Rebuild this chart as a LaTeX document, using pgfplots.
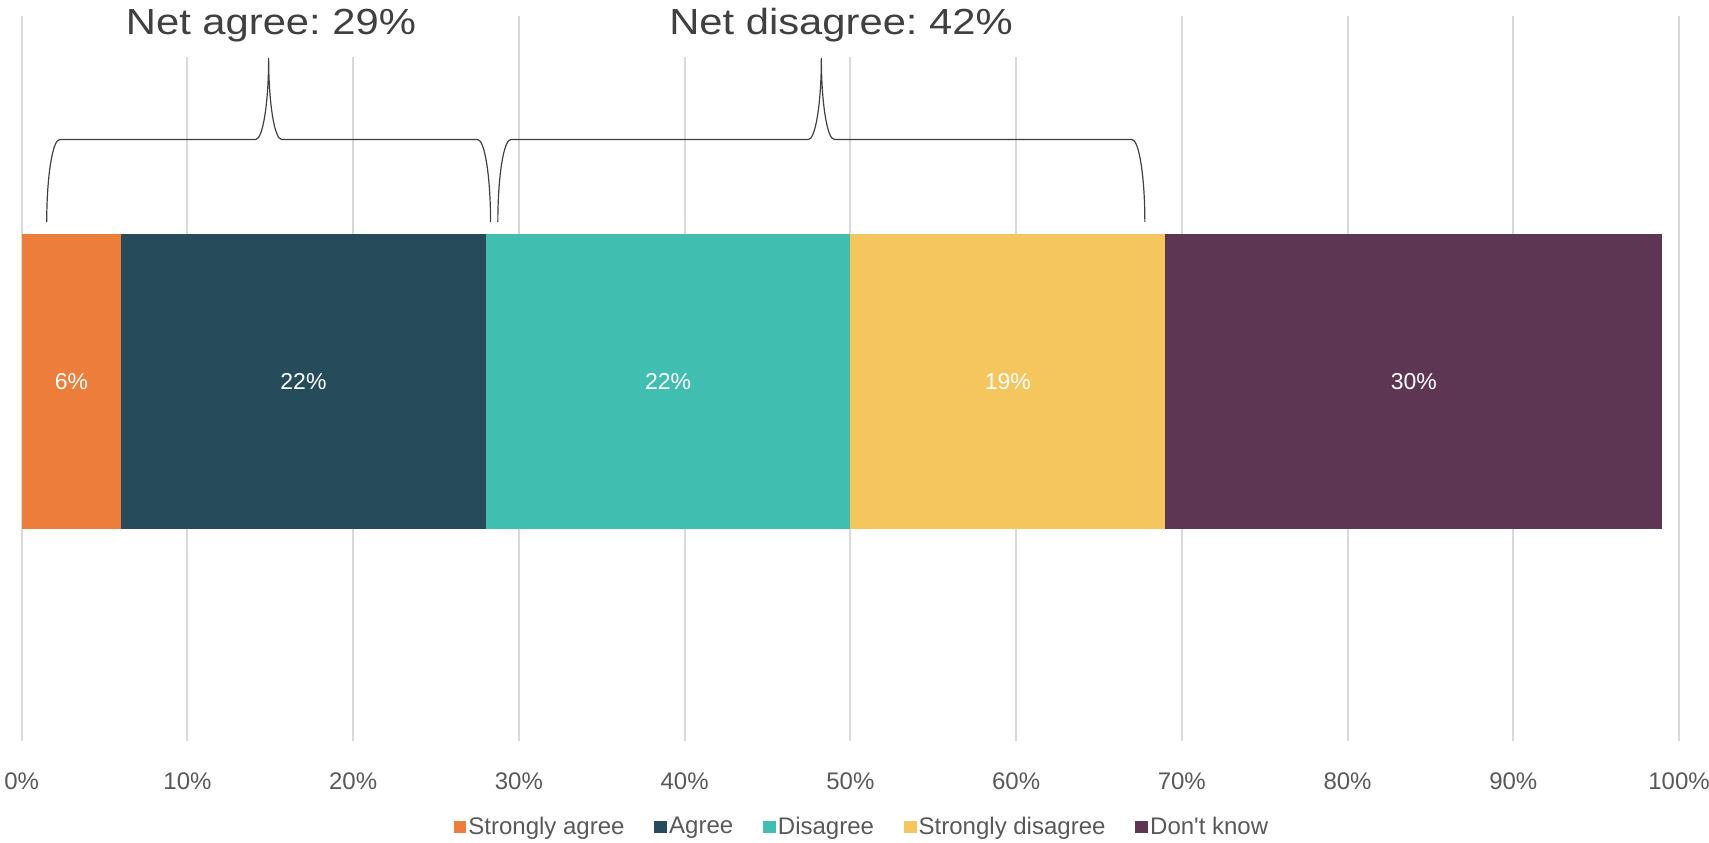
\documentclass[border=0pt]{standalone}
\usepackage{fontspec}
\setmainfont{Liberation Sans}
\newfontfamily\titlefont[FakeStretch=1.15]{Liberation Sans}
\frenchspacing
\usepackage{pgfplots}
\pgfplotsset{compat=1.18}
\usetikzlibrary{calc}
\definecolor{cSA}{HTML}{ED7D3B}
\definecolor{cA}{HTML}{264B5B}
\definecolor{cD}{HTML}{40BFB0}
\definecolor{cSD}{HTML}{F5C55E}
\definecolor{cDK}{HTML}{5D3653}
\definecolor{cGrid}{HTML}{D9D9D9}
\definecolor{cTick}{HTML}{595959}
\definecolor{cTitle}{HTML}{404040}
\pgfplotsset{mylegend/.style={legend image code/.code={\fill[##1,draw=none] (0pt,-3.175pt) rectangle (6.35pt,3.175pt);}}}
\newcommand{\netbrace}[3]{%
 \draw[color=cTitle, line width=0.6pt]
 (axis cs:#1,-222) .. controls (axis cs:#1,-176.5) and (axis cs:{#1+0.352},-139.5) .. (axis cs:{#1+0.784},-139.5)
 -- (axis cs:{#2-0.784},-139.5) .. controls (axis cs:{#2-0.352},-139.5) and (axis cs:#2,-103) .. (axis cs:#2,-58)
 .. controls (axis cs:#2,-103) and (axis cs:{#2+0.352},-139.5) .. (axis cs:{#2+0.784},-139.5)
 -- (axis cs:{#3-0.784},-139.5) .. controls (axis cs:{#3-0.352},-139.5) and (axis cs:#3,-176.5) .. (axis cs:#3,-222);
}
\begin{document}
\begin{tikzpicture}
\begin{axis}[
 name=ax,
 width=828.65pt, height=362.5pt, scale only axis,
 xmin=0, xmax=100, ymin=-741, ymax=-16,
 xbar stacked, bar width=295,
 clip=false,
 axis line style={draw=none},
 major tick length=0pt,
 ytick=\empty,
 xtick={0,10,...,100},
 xticklabel={\pgfmathprintnumber{\tick}\%},
 /pgf/number format/assume math mode=true,
 xmajorgrids, grid style={color=cGrid, line width=1pt},
 xticklabel style={font=\fontsize{12}{14}\selectfont, text=cTick, anchor=center, yshift=-20pt},
 legend columns=-1,
 legend style={at={(0.507,-0.1186)}, anchor=center, draw=none, fill=none,
   font=\fontsize{12}{14}\selectfont, text=cTick, nodes={inner sep=1.1pt},
   /tikz/every even column/.append style={column sep=13.8pt}},
]
\addplot[fill=cSA, draw=none, mylegend] coordinates {(6,-381.5)};
\addplot[fill=cA, draw=none, mylegend] coordinates {(22,-381.5)};
\addplot[fill=cD, draw=none, mylegend] coordinates {(22,-381.5)};
\addplot[fill=cSD, draw=none, mylegend] coordinates {(19,-381.5)};
\addplot[fill=cDK, draw=none, mylegend] coordinates {(30,-381.5)};
\legend{Strongly agree, Agree, Disagree, Strongly disagree, Don\textquotesingle t know}
\coordinate (l1) at (axis cs:3,-381.5);
\coordinate (l2) at (axis cs:17,-381.5);
\coordinate (l3) at (axis cs:39,-381.5);
\coordinate (l4) at (axis cs:59.5,-381.5);
\coordinate (l5) at (axis cs:84,-381.5);
\coordinate (b1a) at (axis cs:5.6,-14);
\coordinate (b1b) at (axis cs:24.5,-57);
\coordinate (b2a) at (axis cs:38.4,-14);
\coordinate (b2b) at (axis cs:60.7,-57);
\coordinate (t1) at (axis cs:15.04,-34.3);
\coordinate (t2) at (axis cs:49.44,-34.3);
\netbrace{1.51}{14.90}{28.29}
\netbrace{28.73}{48.25}{67.77}
\end{axis}
\fill[white] (b1a) rectangle (b1b);
\fill[white] (b2a) rectangle (b2b);
\node[text=cTitle, font=\titlefont\fontsize{18.15}{20}\selectfont, anchor=base, inner sep=0pt] at (t1) {Net agree: 29\%};
\node[text=cTitle, font=\titlefont\fontsize{18.15}{20}\selectfont, anchor=base, inner sep=0pt] at (t2) {Net disagree: 42\%};
\foreach \c/\t in {l1/6, l2/22, l3/22, l4/19, l5/30}
  \node[text=white, font=\fontsize{11.5}{13}\selectfont] at (\c) {\t\%};
\pgfresetboundingbox
\path[use as bounding box] ($(ax.south west)+(-10.85pt,-50.5pt)$) rectangle ($(ax.south west)+(843.65pt,370.5pt)$);
\end{tikzpicture}
\end{document}
